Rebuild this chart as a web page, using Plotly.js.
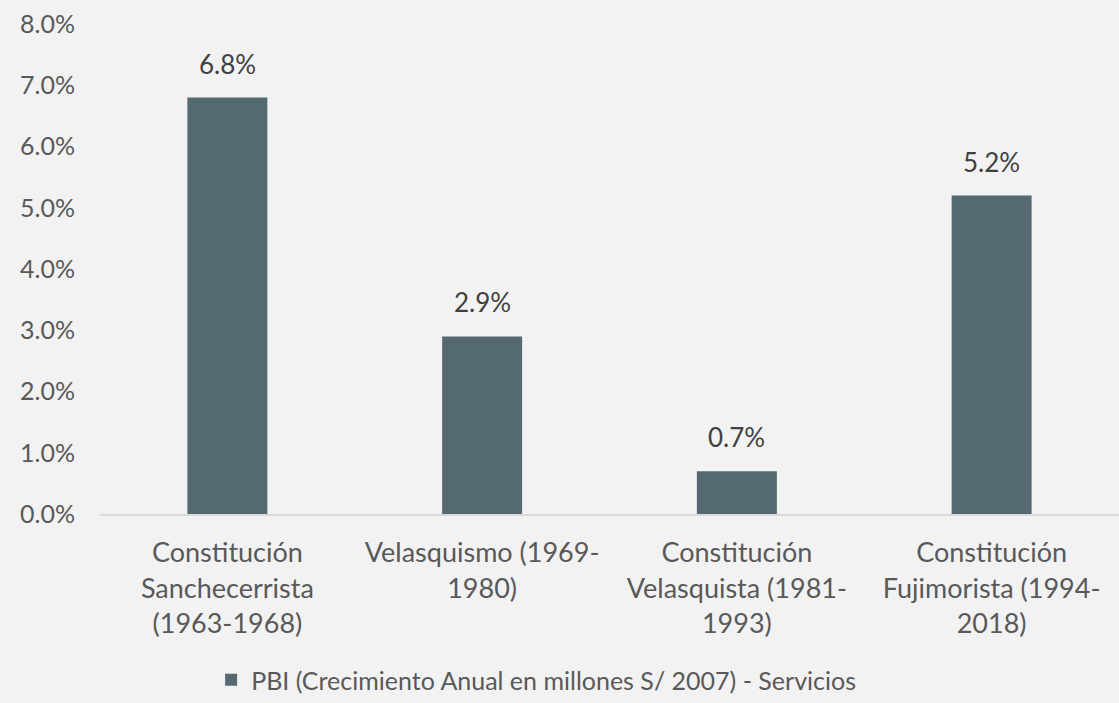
<!DOCTYPE html>
<html>
<head>
<meta charset="utf-8">
<script src="https://cdn.plot.ly/plotly-3.0.1.min.js"></script>
<style>
html,body{margin:0;padding:0;background:#f2f2f2;}
#chart{width:1119px;height:703px;}
</style>
</head>
<body>
<div id="chart"></div>
<script>
const categories = [
  "Constitución<br>Sanchecerrista<br>(1963-1968)",
  "Velasquismo (1969-<br>1980)",
  "Constitución<br>Velasquista (1981-<br>1993)",
  "Constitución<br>Fujimorista (1994-<br>2018)"
];
const values = [6.8, 2.9, 0.7, 5.2];
const valueLabels = ["6.8%", "2.9%", "0.7%", "5.2%"];
const seriesName = "PBI (Crecimiento Anual en millones S/ 2007) - Servicios";

const FONT = "Lato, 'Open Sans', sans-serif";
const trace = {
  type: "bar",
  x: categories,
  y: values,
  name: seriesName,
  marker: {color: "#546a70", line: {width: 0}},
  hoverinfo: "skip"
};

const annotations = categories.map((c, i) => ({
  x: c, y: values[i], xref: "x", yref: "y",
  text: valueLabels[i], showarrow: false,
  yanchor: "bottom", yshift: 16,
  font: {family: FONT, size: 26, color: "#404040"}
}));

const layout = {
  width: 1119, height: 703,
  paper_bgcolor: "#f2f2f2", plot_bgcolor: "#f2f2f2",
  margin: {l: 100, r: 0, t: 24, b: 188},
  bargap: 0.686,
  showlegend: true,
  legend: {
    orientation: "h", x: 0.428, xanchor: "center", y: -0.34, yanchor: "middle",
    font: {family: FONT, size: 25, color: "#595959"},
    bgcolor: "rgba(0,0,0,0)"
  },
  xaxis: {
    showgrid: false, zeroline: false,
    showline: true, linecolor: "#d9d9d9", linewidth: 2,
    ticks: "", tickfont: {family: FONT, size: 27, color: "#595959"},
    tickangle: 0, ticklabelstandoff: 14
  },
  yaxis: {
    range: [0, 8], dtick: 1, tickformat: ".1f", ticksuffix: "%",
    showgrid: false, zeroline: false, showline: false, ticks: "",
    tickfont: {family: FONT, size: 25, color: "#595959"},
    ticklabelstandoff: 24
  },
  annotations: annotations
};

Plotly.newPlot("chart", [trace], layout, {displayModeBar: false, staticPlot: true});
</script>
</body>
</html>
